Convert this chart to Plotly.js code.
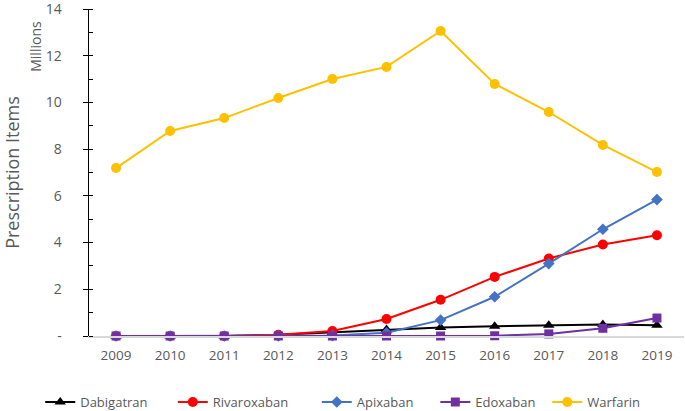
<!DOCTYPE html>
<html><head><meta charset="utf-8">
<script src="https://cdn.plot.ly/plotly-3.0.1.min.js"></script>
<style>html,body{margin:0;padding:0;background:#fff}#chart{width:685px;height:411px}</style>
</head><body><div id="chart"></div>
<script>
const years = ['2009','2010','2011','2012','2013','2014','2015','2016','2017','2018','2019'];
const dabigatran  = [0, 0, 0, 0.05, 0.15, 0.28, 0.36, 0.42, 0.46, 0.49, 0.46];
const rivaroxaban = [0, 0, 0, 0.05, 0.21, 0.73, 1.55, 2.53, 3.32, 3.92, 4.31];
const apixaban    = [0, 0, 0, 0, 0.02, 0.14, 0.68, 1.68, 3.10, 4.57, 5.84];
const edoxaban    = [0, 0, 0, 0, 0, 0, 0, 0.01, 0.09, 0.33, 0.77];
const warfarin    = [7.19, 8.78, 9.33, 10.19, 11.0, 11.52, 13.06, 10.79, 9.59, 8.18, 7.02];
const yTickVals = [0, 2, 4, 6, 8, 10, 12, 14];
const yTickText = ['-', '2', '4', '6', '8', '10', '12', '14'];

const FONT = '"Open Sans", "Noto Sans", sans-serif';
const GRAY = '#595959';
const pad = n => '\u00a0'.repeat(n);

function tr(name, padN, y, color, symbol, size) {
  return {x: years, y: y, name: name + pad(padN), type: 'scatter', mode: 'lines+markers',
    line: {color: color, width: 2}, marker: {color: color, symbol: symbol, size: size},
    cliponaxis: false};
}
const data = [
  tr('Dabigatran', 6, dabigatran, '#000000', 'triangle-up', 10),
  tr('Rivaroxaban', 7, rivaroxaban, '#FF0000', 'circle', 10),
  tr('Apixaban', 5, apixaban, '#4472C4', 'diamond', 9),
  tr('Edoxaban', 2, edoxaban, '#7030A0', 'square', 9),
  tr('Warfarin', 0, warfarin, '#FFC000', 'circle', 10)
];
data.push({x: [], y: [], yaxis: 'y2', type: 'scatter', showlegend: false, hoverinfo: 'skip'});

const layout = {
  width: 685, height: 411,
  margin: {l: 89, r: 1, t: 9, b: 75, autoexpand: false},
  paper_bgcolor: '#fff', plot_bgcolor: '#fff',
  font: {family: FONT, size: 14, color: GRAY},
  showlegend: true,
  legend: {orientation: 'h', xref: 'paper', yref: 'paper', x: -0.082, xanchor: 'left',
    y: -0.202, yanchor: 'middle', font: {family: FONT, size: 13, color: GRAY}, itemwidth: 30},
  xaxis: {type: 'category', range: [-0.5, 10.5], showgrid: false, zeroline: false,
    showline: true, linecolor: '#d9d9d9', linewidth: 1.5, ticks: '', ticklabelstandoff: 6,
    tickfont: {family: FONT, size: 13.5, color: GRAY}, fixedrange: true},
  yaxis: {range: [0, 14], tickvals: yTickVals, ticktext: yTickText, showgrid: false, zeroline: false,
    showline: true, linecolor: '#000', linewidth: 1.5, ticks: 'outside', ticklen: 5, tickcolor: '#000',
    ticklabelstandoff: 18, ticklabeloverflow: 'allow',
    minor: {dtick: 1, tick0: 0, ticks: 'inside', ticklen: 4, tickcolor: '#000'},
    tickfont: {family: FONT, size: 14, color: GRAY},
    title: {text: 'Prescription Items', font: {family: FONT, size: 18, color: GRAY}, standoff: 36},
    fixedrange: true},
  yaxis2: {overlaying: 'y', side: 'left', range: [0, 14], tickvals: yTickVals, ticks: 'inside',
    ticklen: 4, tickcolor: '#000', showticklabels: false, showline: false, showgrid: false,
    zeroline: false, fixedrange: true},
  annotations: [{text: 'Millions', xref: 'paper', yref: 'paper', x: -0.09, y: 0.97,
    xanchor: 'center', yanchor: 'top', textangle: -90, showarrow: false,
    font: {family: FONT, size: 14, color: GRAY}}]
};
Plotly.newPlot('chart', data, layout, {displayModeBar: false, staticPlot: true});
</script></body></html>
